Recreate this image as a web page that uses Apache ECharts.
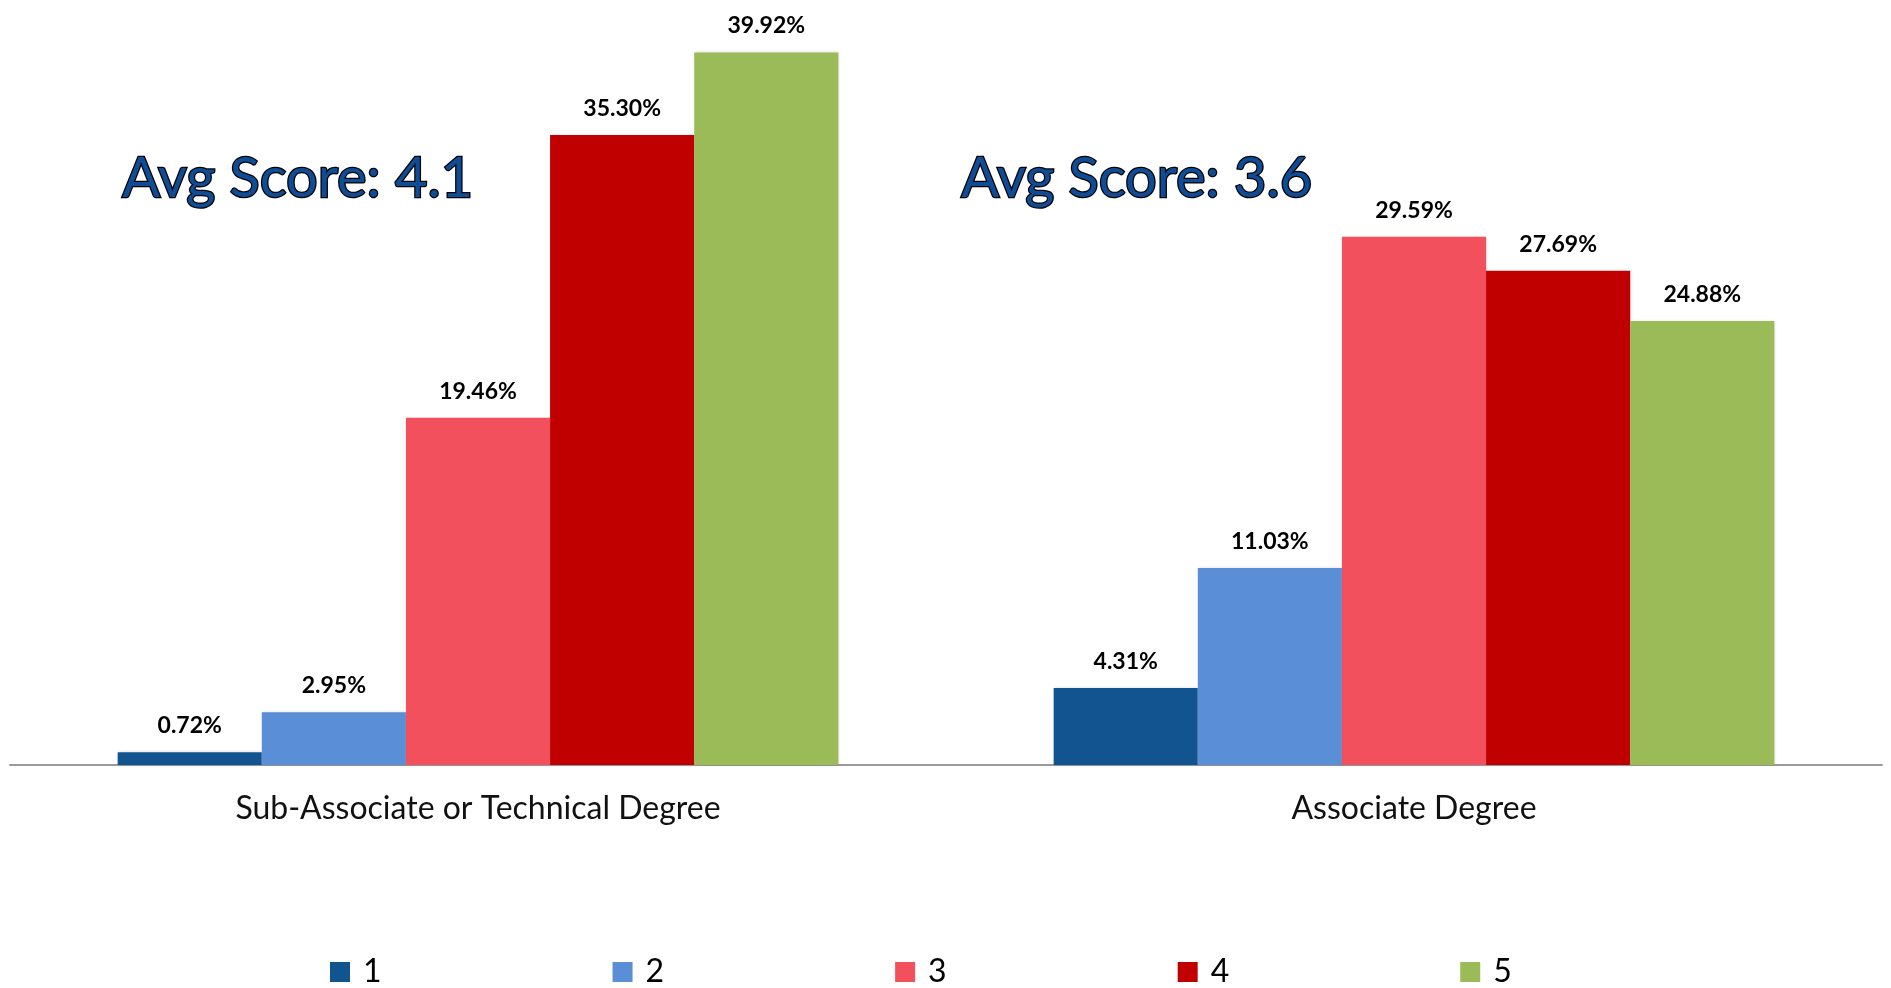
<!DOCTYPE html>
<html>
<head>
<meta charset="utf-8">
<script src="https://cdn.jsdelivr.net/npm/echarts@6/dist/echarts.min.js"></script>
<style>
  html, body { margin: 0; padding: 0; background: #fff; }
  #chart { width: 1891px; height: 988px; }
</style>
</head>
<body>
<div id="chart"></div>
<script>
// categories and ratings
var categories = ['Sub-Associate or Technical Degree', 'Associate Degree'];
var ratings = ['1', '2', '3', '4', '5'];
// percent per rating, [sub-associate, associate]
var rating1 = [0.72, 4.31];
var rating2 = [2.95, 11.03];
var rating3 = [19.46, 29.59];
var rating4 = [35.30, 27.69];
var rating5 = [39.92, 24.88];
var avgScores = ['Avg Score: 4.1', 'Avg Score: 3.6'];

var colors = ['#11548F', '#5A8ED6', '#F2505C', '#C00000', '#9BBB59'];
var values = [rating1, rating2, rating3, rating4, rating5];

var series = [];
for (var i = 0; i < ratings.length; i++) {
    series.push({
        name: ratings[i],
        type: 'bar',
        data: values[i],
        barGap: '0%',
        barCategoryGap: '23%',
        itemStyle: {
            color: colors[i],
            shadowColor: 'rgba(0,0,0,0.15)',
            shadowBlur: 3,
            shadowOffsetX: 1
        },
        label: {
            show: true,
            position: 'top',
            distance: 15,
            formatter: function (p) { return p.value.toFixed(2) + '%'; },
            fontFamily: 'Lato',
            fontWeight: 'bold',
            fontSize: 23,
            color: '#000'
        }
    });
}

var avgStyle = {
    fontFamily: 'Lato',
    fontWeight: 'normal',
    fontSize: 56,
    fill: '#0F4C96',
    stroke: '#000',
    lineWidth: 2.5,
    textVerticalAlign: 'middle',
    shadowColor: 'rgba(0,0,0,0.35)',
    shadowBlur: 4,
    shadowOffsetX: 2,
    shadowOffsetY: 3
};

var chart = echarts.init(document.getElementById('chart'));
chart.setOption({
    animation: false,
    color: colors,
    grid: { left: 10, right: 9, top: 51, bottom: 223 },
    legend: {
        data: ratings,
        left: 325,
        top: 951,
        itemWidth: 20,
        itemHeight: 20,
        itemGap: 231,
        icon: 'rect',
        textStyle: { fontFamily: 'Lato', fontSize: 32, color: '#000', padding: [0, 0, 0, 8] }
    },
    xAxis: {
        type: 'category',
        data: categories,
        axisLine: { lineStyle: { color: '#9a9a9a', width: 2 } },
        axisTick: { show: false },
        axisLabel: {
            margin: 28,
            fontFamily: 'Lato',
            fontSize: 32,
            color: '#111'
        }
    },
    yAxis: {
        type: 'value',
        min: 0,
        max: 40,
        show: false,
        splitLine: { show: false }
    },
    graphic: [
        { type: 'text', left: 121, top: 150, style: Object.assign({ text: avgScores[0] }, avgStyle) },
        { type: 'text', left: 960, top: 150, style: Object.assign({ text: avgScores[1] }, avgStyle) }
    ],
    series: series
});
</script>
</body>
</html>
